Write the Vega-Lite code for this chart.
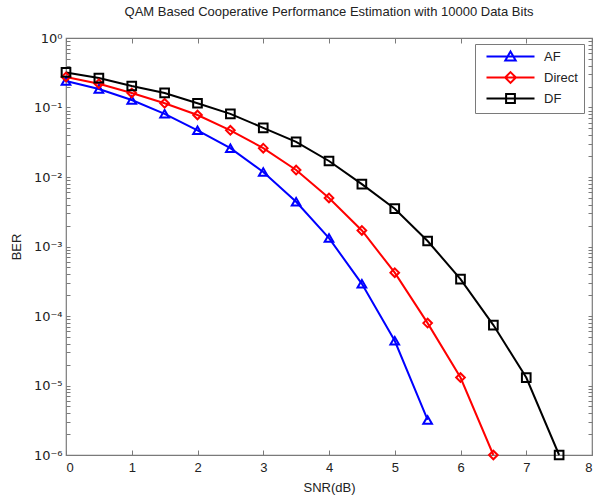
{
  "$schema": "https://vega.github.io/schema/vega-lite/v6.json",
  "width": 526,
  "height": 417,
  "autosize": {"type": "none"},
  "padding": {"left": 66, "top": 38, "right": 5, "bottom": 42},
  "title": {
    "text": "QAM Based Cooperative Performance Estimation with 10000 Data Bits",
    "font": "Liberation Sans",
    "fontSize": 13,
    "fontWeight": "normal",
    "color": "#222222",
    "anchor": "middle",
    "offset": 13
  },
  "config": {
    "font": "Liberation Sans",
    "view": {"stroke": "#7a7a7a", "strokeWidth": 1.2},
    "axis": {
      "domain": false,
      "grid": false,
      "labelFont": "Liberation Sans",
      "labelFontSize": 13,
      "labelColor": "#222222",
      "tickColor": "#7a7a7a",
      "titleFont": "Liberation Sans",
      "titleFontSize": 13,
      "titleFontWeight": "normal",
      "titleColor": "#222222"
    }
  },
  "data": {
    "values": [
      {"snr": 0, "ber": 0.24, "scheme": "AF"},
      {"snr": 0.5, "ber": 0.185, "scheme": "AF"},
      {"snr": 1, "ber": 0.128, "scheme": "AF"},
      {"snr": 1.5, "ber": 0.081, "scheme": "AF"},
      {"snr": 2, "ber": 0.047, "scheme": "AF"},
      {"snr": 2.5, "ber": 0.026, "scheme": "AF"},
      {"snr": 3, "ber": 0.0118, "scheme": "AF"},
      {"snr": 3.5, "ber": 0.0044, "scheme": "AF"},
      {"snr": 4, "ber": 0.00132, "scheme": "AF"},
      {"snr": 4.5, "ber": 0.00029, "scheme": "AF"},
      {"snr": 5, "ber": 0.000044, "scheme": "AF"},
      {"snr": 5.5, "ber": 0.0000032, "scheme": "AF"},
      {"snr": 0, "ber": 0.275, "scheme": "Direct"},
      {"snr": 0.5, "ber": 0.22, "scheme": "Direct"},
      {"snr": 1, "ber": 0.162, "scheme": "Direct"},
      {"snr": 1.5, "ber": 0.115, "scheme": "Direct"},
      {"snr": 2, "ber": 0.078, "scheme": "Direct"},
      {"snr": 2.5, "ber": 0.047, "scheme": "Direct"},
      {"snr": 3, "ber": 0.026, "scheme": "Direct"},
      {"snr": 3.5, "ber": 0.0126, "scheme": "Direct"},
      {"snr": 4, "ber": 0.005, "scheme": "Direct"},
      {"snr": 4.5, "ber": 0.0017, "scheme": "Direct"},
      {"snr": 5, "ber": 0.00042, "scheme": "Direct"},
      {"snr": 5.5, "ber": 0.000079, "scheme": "Direct"},
      {"snr": 6, "ber": 0.000013, "scheme": "Direct"},
      {"snr": 6.5, "ber": 0.000001, "scheme": "Direct"},
      {"snr": 0, "ber": 0.32, "scheme": "DF"},
      {"snr": 0.5, "ber": 0.265, "scheme": "DF"},
      {"snr": 1, "ber": 0.204, "scheme": "DF"},
      {"snr": 1.5, "ber": 0.162, "scheme": "DF"},
      {"snr": 2, "ber": 0.115, "scheme": "DF"},
      {"snr": 2.5, "ber": 0.081, "scheme": "DF"},
      {"snr": 3, "ber": 0.051, "scheme": "DF"},
      {"snr": 3.5, "ber": 0.032, "scheme": "DF"},
      {"snr": 4, "ber": 0.017, "scheme": "DF"},
      {"snr": 4.5, "ber": 0.0079, "scheme": "DF"},
      {"snr": 5, "ber": 0.0035, "scheme": "DF"},
      {"snr": 5.5, "ber": 0.0012, "scheme": "DF"},
      {"snr": 6, "ber": 0.00034, "scheme": "DF"},
      {"snr": 6.5, "ber": 0.000074, "scheme": "DF"},
      {"snr": 7, "ber": 0.000013, "scheme": "DF"},
      {"snr": 7.5, "ber": 0.000001, "scheme": "DF"}
    ]
  },
  "layer": [
    {
      "mark": {"type": "line", "strokeWidth": 2, "clip": false},
      "encoding": {
        "x": {
          "field": "snr",
          "type": "quantitative",
          "scale": {"domain": [0, 8], "nice": false, "zero": false},
          "axis": {
            "orient": "bottom",
            "title": "SNR(dB)",
            "values": [0, 1, 2, 3, 4, 5, 6, 7, 8],
            "tickSize": -5,
            "labelPadding": 11,
            "titlePadding": 7
          }
        },
        "y": {
          "field": "ber",
          "type": "quantitative",
          "scale": {"type": "log", "domain": [0.000001, 1], "nice": false},
          "axis": {
            "orient": "left",
            "title": "BER",
            "values": [0.000001,0.000002,0.000003,0.000004,0.000005,0.000006,0.000007,0.000008,0.000009,
                       0.00001,0.00002,0.00003,0.00004,0.00005,0.00006,0.00007,0.00008,0.00009,
                       0.0001,0.0002,0.0003,0.0004,0.0005,0.0006,0.0007,0.0008,0.0009,
                       0.001,0.002,0.003,0.004,0.005,0.006,0.007,0.008,0.009,
                       0.01,0.02,0.03,0.04,0.05,0.06,0.07,0.08,0.09,
                       0.1,0.2,0.3,0.4,0.5,0.6,0.7,0.8,0.9,1],
            "labelExpr": "abs(log(datum.value)/LN10 - round(log(datum.value)/LN10)) < 0.001 ? '10' + (round(log(datum.value)/LN10) < 0 ? '⁻' : '') + ['⁰','¹','²','³','⁴','⁵','⁶','⁷','⁸','⁹'][abs(round(log(datum.value)/LN10))] : ''",
            "labelFont": "DejaVu Sans",
            "labelFontSize": 13,
            "tickSize": -4,
            "labelPadding": 8,
            "labelOverlap": false,
            "titlePadding": 10
          }
        },
        "color": {
          "field": "scheme",
          "type": "nominal",
          "scale": {"domain": ["AF", "Direct", "DF"], "range": ["#0000ff", "#ff0000", "#000000"]},
          "legend": null
        }
      }
    },
    {
      "mark": {"type": "point", "filled": false, "strokeWidth": 2, "size": 75, "opacity": 1, "clip": false},
      "encoding": {
        "x": {
          "field": "snr",
          "type": "quantitative",
          "scale": {"domain": [0, 8], "nice": false, "zero": false},
          "axis": {"orient": "top", "title": null, "labels": false, "values": [0, 1, 2, 3, 4, 5, 6, 7, 8], "tickSize": -5}
        },
        "y": {
          "field": "ber",
          "type": "quantitative",
          "scale": {"type": "log", "domain": [0.000001, 1], "nice": false},
          "axis": {
            "orient": "right",
            "title": null,
            "labels": false,
            "values": [0.000001,0.000002,0.000003,0.000004,0.000005,0.000006,0.000007,0.000008,0.000009,
                       0.00001,0.00002,0.00003,0.00004,0.00005,0.00006,0.00007,0.00008,0.00009,
                       0.0001,0.0002,0.0003,0.0004,0.0005,0.0006,0.0007,0.0008,0.0009,
                       0.001,0.002,0.003,0.004,0.005,0.006,0.007,0.008,0.009,
                       0.01,0.02,0.03,0.04,0.05,0.06,0.07,0.08,0.09,
                       0.1,0.2,0.3,0.4,0.5,0.6,0.7,0.8,0.9,1],
            "tickSize": -4
          }
        },
        "color": {
          "field": "scheme",
          "type": "nominal",
          "scale": {"domain": ["AF", "Direct", "DF"], "range": ["#0000ff", "#ff0000", "#000000"]},
          "legend": null
        },
        "shape": {
          "field": "scheme",
          "type": "nominal",
          "scale": {"domain": ["AF", "Direct", "DF"], "range": ["triangle-up", "diamond", "square"]},
          "legend": null
        }
      }
    },
    {
      "mark": {"type": "point", "filled": false, "strokeWidth": 2, "size": 64, "opacity": 0},
      "encoding": {
        "x": {"field": "snr", "type": "quantitative", "scale": {"domain": [0, 8], "nice": false, "zero": false}, "axis": null},
        "y": {"field": "ber", "type": "quantitative", "scale": {"type": "log", "domain": [0.000001, 1], "nice": false}, "axis": null},
        "color": {
          "field": "scheme",
          "type": "nominal",
          "scale": {"domain": ["AF", "Direct", "DF"], "range": ["#0000ff", "#ff0000", "#000000"]}
        },
        "shape": {
          "field": "scheme",
          "type": "nominal",
          "scale": {
            "domain": ["AF", "Direct", "DF"],
            "range": [
              "M-6,0H6M0,-1.25L1.3,1L-1.3,1Z",
              "M-6,0H6M0,-1.35L1.35,0L0,1.35L-1.35,0Z",
              "M-6,0H6M-1.1,-1.1H1.1V1.1H-1.1Z"
            ]
          },
          "legend": {
            "title": null,
            "orient": "none",
            "legendX": 409,
            "legendY": 6,
            "strokeColor": "#7a7a7a",
            "fillColor": "#ffffff",
            "padding": 6,
            "labelFontSize": 13,
            "labelFont": "Liberation Sans",
            "labelColor": "#222222",
            "symbolSize": 64,
            "symbolStrokeWidth": 2,
            "symbolOpacity": 1,
            "symbolOffset": 23,
            "labelOffset": 27,
            "rowPadding": 3,
            "labelLimit": 200
          }
        }
      }
    }
  ],
  "resolve": {
    "scale": {"shape": "independent"},
    "axis": {"x": "independent", "y": "independent"},
    "legend": {"color": "independent", "shape": "independent"}
  }
}
